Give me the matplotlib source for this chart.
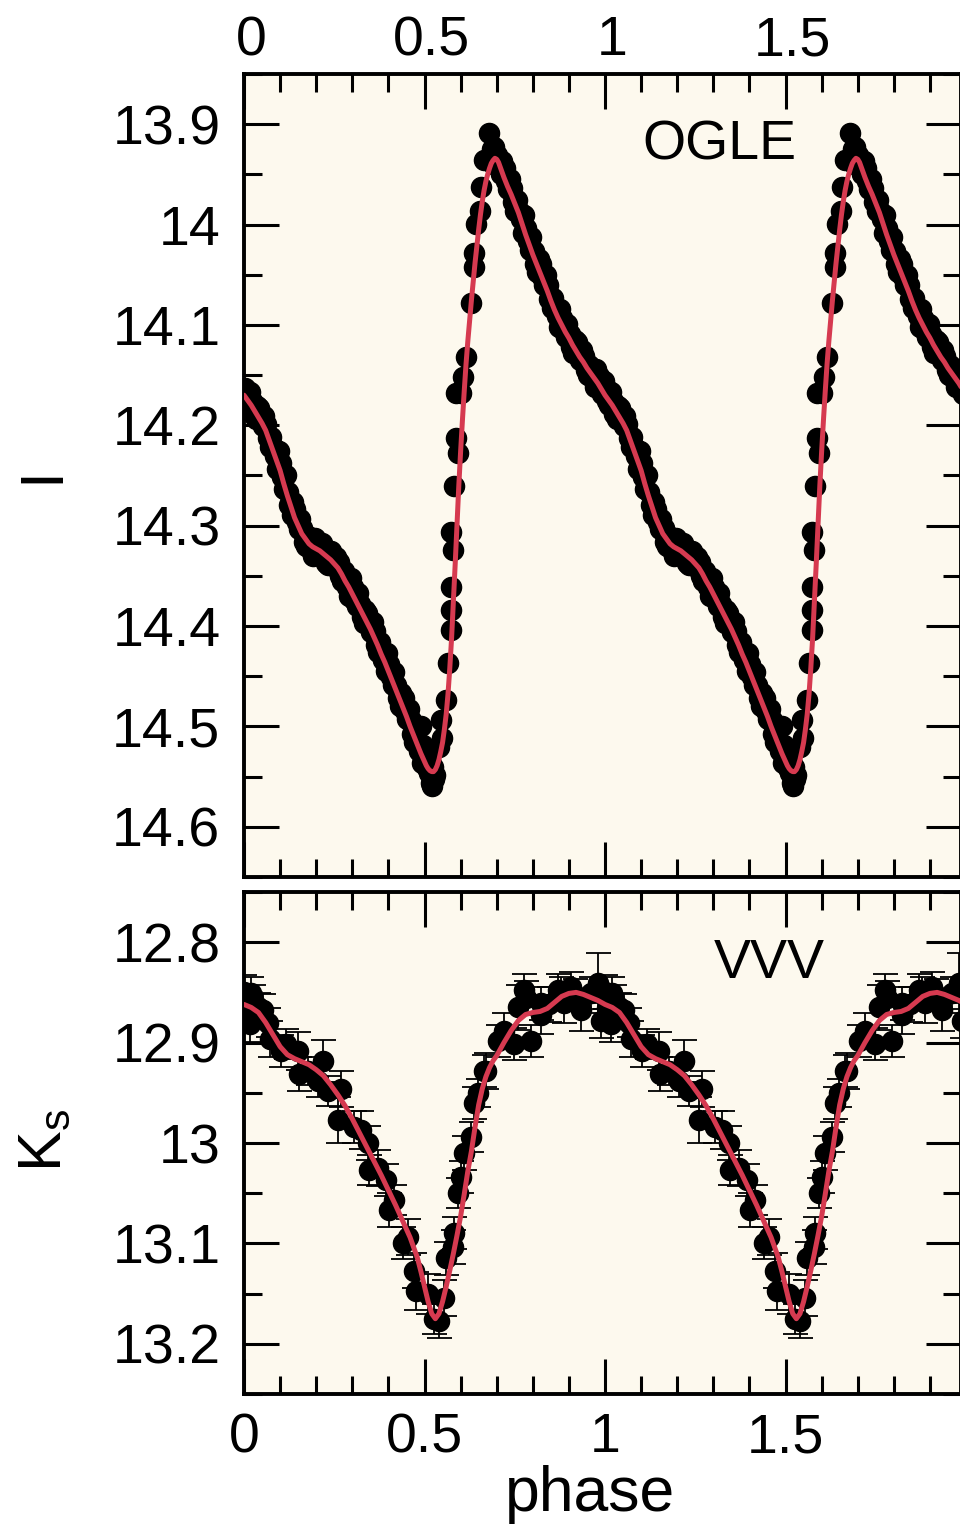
import matplotlib
matplotlib.use('Agg')
import matplotlib.pyplot as plt
from matplotlib.ticker import MultipleLocator, FuncFormatter
from matplotlib.transforms import ScaledTranslation

plt.rcParams['font.family'] = ['Liberation Sans', 'DejaVu Sans']
plt.rcParams['mathtext.fontset'] = 'custom'
plt.rcParams['mathtext.rm'] = 'Liberation Sans'
plt.rcParams['mathtext.it'] = 'Liberation Sans:italic'

# ---------------- OGLE I-band data (phase 0..1) ----------------
ogle_phase = [
    0.002, 0.006, 0.012, 0.016, 0.022, 0.026, 0.032, 0.036, 0.042, 0.046,
    0.052, 0.056, 0.062, 0.066, 0.072, 0.076, 0.082, 0.086, 0.092, 0.096,
    0.102, 0.106, 0.112, 0.116, 0.122, 0.126, 0.132, 0.136, 0.142, 0.146,
    0.152, 0.156, 0.162, 0.166, 0.172, 0.176, 0.182, 0.186, 0.192, 0.196,
    0.202, 0.206, 0.212, 0.216, 0.222, 0.226, 0.232, 0.236, 0.242, 0.246,
    0.252, 0.256, 0.262, 0.266, 0.272, 0.276, 0.282, 0.286, 0.292, 0.296,
    0.302, 0.306, 0.312, 0.316, 0.322, 0.326, 0.332, 0.336, 0.342, 0.346,
    0.352, 0.356, 0.362, 0.366, 0.372, 0.376, 0.382, 0.386, 0.392, 0.396,
    0.402, 0.406, 0.412, 0.416, 0.422, 0.426, 0.432, 0.436, 0.442, 0.446,
    0.452, 0.456, 0.462, 0.466, 0.472, 0.476, 0.482, 0.486, 0.492, 0.496,
    0.502, 0.506, 0.512, 0.516,
    0.490, 0.518, 0.522, 0.526, 0.530, 0.524, 0.540, 0.546, 0.548,
    0.560, 0.565, 0.573, 0.573, 0.573, 0.579, 0.573, 0.582, 0.593, 0.587,
    0.587, 0.601, 0.607, 0.615, 0.629, 0.637, 0.637, 0.643, 0.654, 0.657,
    0.665, 0.679, 0.686, 0.693, 0.690, 0.697,
    0.702, 0.706, 0.712, 0.716, 0.722, 0.726, 0.732, 0.736, 0.742, 0.746,
    0.752, 0.756, 0.762, 0.766, 0.772, 0.776, 0.782, 0.786, 0.792, 0.796,
    0.802, 0.806, 0.812, 0.816, 0.822, 0.826, 0.832, 0.836, 0.842, 0.846,
    0.852, 0.856, 0.862, 0.866, 0.872, 0.876, 0.882, 0.886, 0.892, 0.896,
    0.902, 0.906, 0.912, 0.916, 0.922, 0.926, 0.932, 0.936, 0.942, 0.946,
    0.952, 0.956, 0.962, 0.966, 0.972, 0.976, 0.982, 0.986, 0.992, 0.996,
]
ogle_mag = [
    14.163, 14.176, 14.180, 14.167, 14.176, 14.189, 14.194, 14.181, 14.183, 14.196,
    14.201, 14.191, 14.199, 14.213, 14.222, 14.212, 14.223, 14.231, 14.244, 14.226,
    14.238, 14.251, 14.263, 14.250, 14.266, 14.279, 14.289, 14.276, 14.283, 14.296,
    14.303, 14.293, 14.302, 14.316, 14.320, 14.310, 14.316, 14.324, 14.330, 14.312,
    14.316, 14.329, 14.330, 14.317, 14.324, 14.337, 14.339, 14.326, 14.325, 14.338,
    14.341, 14.331, 14.336, 14.350, 14.355, 14.345, 14.353, 14.361, 14.370, 14.352,
    14.361, 14.374, 14.380, 14.367, 14.378, 14.391, 14.397, 14.384, 14.387, 14.400,
    14.406, 14.396, 14.405, 14.419, 14.426, 14.416, 14.426, 14.434, 14.445, 14.427,
    14.438, 14.451, 14.459, 14.446, 14.459, 14.472, 14.480, 14.467, 14.472, 14.485,
    14.493, 14.483, 14.494, 14.508, 14.516, 14.506, 14.516, 14.524, 14.536, 14.518,
    14.528, 14.541, 14.546, 14.533,
    14.500, 14.556, 14.559, 14.552, 14.548, 14.540, 14.520, 14.494, 14.512,
    14.474, 14.437, 14.404, 14.384, 14.361, 14.324, 14.306, 14.260, 14.228, 14.213,
    14.168, 14.168, 14.152, 14.132, 14.078, 14.042, 14.028, 13.999, 13.986, 13.963,
    13.936, 13.909, 13.925, 13.923, 13.940, 13.931,
    13.931, 13.944, 13.950, 13.937, 13.944, 13.957, 13.965, 13.955, 13.964, 13.978,
    13.986, 13.976, 13.986, 13.994, 14.008, 13.990, 14.003, 14.016, 14.025, 14.012,
    14.026, 14.039, 14.047, 14.034, 14.039, 14.052, 14.060, 14.050, 14.060, 14.074,
    14.083, 14.073, 14.083, 14.091, 14.102, 14.084, 14.093, 14.106, 14.112, 14.099,
    14.109, 14.122, 14.128, 14.115, 14.117, 14.130, 14.135, 14.125, 14.131, 14.145,
    14.150, 14.140, 14.146, 14.154, 14.162, 14.144, 14.151, 14.164, 14.169, 14.156,
]

ogle_fit_phase = [
    0.00, 0.01, 0.02, 0.03, 0.04, 0.05, 0.06, 0.07, 0.08, 0.09,
    0.10, 0.11, 0.12, 0.13, 0.14, 0.15, 0.16, 0.17, 0.18, 0.19,
    0.20, 0.21, 0.22, 0.23, 0.24, 0.25, 0.26, 0.27, 0.28, 0.29,
    0.30, 0.31, 0.32, 0.33, 0.34, 0.35, 0.36, 0.37, 0.38, 0.39,
    0.40, 0.41, 0.42, 0.43, 0.44, 0.45, 0.46, 0.47, 0.48, 0.49,
    0.50, 0.505, 0.51, 0.515, 0.52, 0.525, 0.53, 0.535, 0.54, 0.545,
    0.55, 0.555, 0.56, 0.565, 0.57, 0.575, 0.58, 0.585, 0.59, 0.595,
    0.60, 0.605, 0.61, 0.615, 0.62, 0.625, 0.63, 0.635, 0.64, 0.645,
    0.65, 0.655, 0.66, 0.665, 0.67, 0.675, 0.68, 0.685, 0.69, 0.695,
    0.70, 0.705, 0.71, 0.715, 0.72, 0.73, 0.74, 0.75, 0.76, 0.77,
    0.78, 0.79, 0.80, 0.81, 0.82, 0.83, 0.84, 0.85, 0.86, 0.87,
    0.88, 0.89, 0.90, 0.91, 0.92, 0.93, 0.94, 0.95, 0.96, 0.97,
    0.98, 0.99, 1.00,
]
ogle_fit_mag = [
    14.170, 14.175, 14.180, 14.186, 14.192, 14.198, 14.205, 14.215, 14.225, 14.235,
    14.245, 14.258, 14.270, 14.281, 14.292, 14.300, 14.308, 14.313, 14.318, 14.321,
    14.323, 14.325, 14.328, 14.331, 14.334, 14.338, 14.342, 14.348, 14.355, 14.361,
    14.368, 14.375, 14.382, 14.389, 14.396, 14.403, 14.411, 14.419, 14.428, 14.436,
    14.445, 14.454, 14.463, 14.472, 14.481, 14.490, 14.500, 14.509, 14.518, 14.527,
    14.535, 14.539, 14.542, 14.544, 14.545, 14.545, 14.543, 14.539, 14.533, 14.525,
    14.516, 14.503, 14.488, 14.468, 14.442, 14.412, 14.376, 14.338, 14.298, 14.260,
    14.226, 14.195, 14.166, 14.139, 14.116, 14.095, 14.075, 14.056, 14.038, 14.021,
    14.005, 13.990, 13.977, 13.966, 13.957, 13.950, 13.944, 13.939, 13.936, 13.934,
    13.935, 13.938, 13.943, 13.948, 13.953, 13.962, 13.970, 13.979, 13.988, 13.999,
    14.010, 14.020, 14.030, 14.039, 14.048, 14.057, 14.066, 14.076, 14.085, 14.093,
    14.100, 14.107, 14.113, 14.120, 14.126, 14.132, 14.137, 14.143, 14.148, 14.153,
    14.158, 14.164, 14.170,
]

# ---------------- VVV Ks-band data (phase 0..1) ----------------
vvv_phase = [
    0.000, 0.006, 0.017, 0.019, 0.025, 0.039, 0.053, 0.066, 0.072, 0.102,
    0.116, 0.149, 0.152, 0.177, 0.205, 0.219, 0.233, 0.260, 0.269, 0.305,
    0.324, 0.343, 0.346, 0.371, 0.393, 0.402, 0.416, 0.440, 0.454, 0.471,
    0.476, 0.510, 0.527, 0.540, 0.554, 0.560, 0.579, 0.582, 0.593, 0.601,
    0.609, 0.629, 0.637, 0.648, 0.665, 0.670, 0.703, 0.720, 0.748, 0.759,
    0.776, 0.781, 0.795, 0.823, 0.823, 0.845, 0.870, 0.878, 0.886, 0.906,
    0.918, 0.934, 0.961, 0.981, 0.989,
]
vvv_mag = [
    12.850, 12.866, 12.881, 12.851, 12.858, 12.865, 12.868, 12.880, 12.896, 12.908,
    12.901, 12.908, 12.931, 12.928, 12.938, 12.918, 12.948, 12.977, 12.946, 12.984,
    12.987, 13.000, 13.027, 13.025, 13.037, 13.067, 13.057, 13.100, 13.094, 13.127,
    13.147, 13.150, 13.175, 13.177, 13.154, 13.115, 13.104, 13.090, 13.050, 13.034,
    13.010, 12.994, 12.960, 12.950, 12.928, 12.928, 12.898, 12.888, 12.901, 12.865,
    12.848, 12.856, 12.898, 12.861, 12.873, 12.862, 12.848, 12.850, 12.861, 12.845,
    12.853, 12.868, 12.851, 12.841, 12.878,
]
vvv_err = [
    0.017, 0.015, 0.018, 0.016, 0.015, 0.014, 0.016, 0.014, 0.018, 0.016,
    0.015, 0.019, 0.017, 0.014, 0.016, 0.021, 0.015, 0.023, 0.018, 0.016,
    0.019, 0.017, 0.015, 0.018, 0.016, 0.017, 0.015, 0.016, 0.018, 0.017,
    0.019, 0.020, 0.015, 0.017, 0.018, 0.016, 0.017, 0.016, 0.015, 0.016,
    0.017, 0.015, 0.016, 0.014, 0.016, 0.018, 0.016, 0.017, 0.016, 0.022,
    0.016, 0.017, 0.016, 0.016, 0.018, 0.017, 0.016, 0.015, 0.019, 0.015,
    0.016, 0.020, 0.016, 0.030, 0.017,
]

vvv_fit_phase = [
    0.00, 0.02, 0.04, 0.06, 0.08, 0.10, 0.12, 0.14, 0.16, 0.18,
    0.20, 0.22, 0.24, 0.26, 0.28, 0.30, 0.32, 0.34, 0.36, 0.38,
    0.40, 0.42, 0.44, 0.46, 0.48, 0.49, 0.50, 0.51, 0.52, 0.53,
    0.54, 0.55, 0.56, 0.57, 0.58, 0.59, 0.60, 0.61, 0.62, 0.63,
    0.64, 0.65, 0.66, 0.67, 0.68, 0.69, 0.70, 0.72, 0.74, 0.76,
    0.78, 0.80, 0.82, 0.84, 0.86, 0.88, 0.90, 0.92, 0.94, 0.96,
    0.98, 1.00,
]
vvv_fit_mag = [
    12.862, 12.865, 12.870, 12.880, 12.892, 12.904, 12.912, 12.916, 12.919, 12.922,
    12.927, 12.933, 12.942, 12.952, 12.963, 12.976, 12.990, 13.004, 13.018, 13.032,
    13.047, 13.062, 13.078, 13.094, 13.114, 13.128, 13.143, 13.158, 13.170, 13.175,
    13.170, 13.158, 13.143, 13.127, 13.110, 13.092, 13.073, 13.051, 13.028, 13.008,
    12.984, 12.962, 12.946, 12.934, 12.925, 12.918, 12.913, 12.900, 12.888, 12.878,
    12.872, 12.870, 12.869, 12.866, 12.860, 12.854, 12.851, 12.850, 12.852, 12.855,
    12.858, 12.862,
]

cycles = [0, 1]
fit_color = '#d63a50'
bg_color = '#fdf9ee'

W, H = 960, 1526
fig = plt.figure(figsize=(W / 100, H / 100), dpi=100)
ax1 = fig.add_axes([244 / W, 1 - 877 / H, 717 / W, 803 / H])
ax2 = fig.add_axes([244 / W, 1 - 1394 / H, 717 / W, 502 / H])

fmt = FuncFormatter(lambda v, p: f'{v:g}')

# OGLE panel
for c in cycles:
    ax1.plot([p + c for p in ogle_phase], ogle_mag, 'o', color='black',
             ms=14.5, mec='black', zorder=2, clip_on=True)
fit_x1 = [p + c for c in cycles for p in ogle_fit_phase]
fit_y1 = [m for c in cycles for m in ogle_fit_mag]
ax1.plot(fit_x1, fit_y1, '-', color=fit_color, lw=3.6, zorder=3,
         solid_capstyle='round')

# VVV panel
for c in cycles:
    ax2.errorbar([p + c for p in vvv_phase], vvv_mag, yerr=vvv_err, fmt='o',
                 color='black', ms=14.5, ecolor='black', elinewidth=1.3,
                 capsize=9, capthick=1.3, zorder=2)
fit_x2 = [p + c for c in cycles for p in vvv_fit_phase]
fit_y2 = [m for c in cycles for m in vvv_fit_mag]
ax2.plot(fit_x2, fit_y2, '-', color=fit_color, lw=3.6, zorder=3,
         solid_capstyle='round')

ax1.set_xlim(0, 1.986)
ax2.set_xlim(0, 1.986)
ax1.set_ylim(14.65, 13.85)
ax2.set_ylim(13.25, 12.75)

for ax in (ax1, ax2):
    ax.set_facecolor(bg_color)
    ax.xaxis.set_major_locator(MultipleLocator(0.5))
    ax.xaxis.set_minor_locator(MultipleLocator(0.1))
    ax.yaxis.set_major_locator(MultipleLocator(0.1))
    ax.yaxis.set_minor_locator(MultipleLocator(0.05))
    ax.xaxis.set_major_formatter(fmt)
    ax.yaxis.set_major_formatter(fmt)
    ax.tick_params(which='both', direction='in', top=True, right=True,
                   bottom=True, left=True, width=2.2, labelsize=40)
    ax.tick_params(which='major', length=25)
    ax.tick_params(which='minor', length=13)
    ax.tick_params(axis='y', pad=17)
    for s in ax.spines.values():
        s.set_linewidth(2.8)

ax1.tick_params(labeltop=True, labelbottom=False)
ax1.tick_params(axis='x', pad=5)
ax2.tick_params(labeltop=False, labelbottom=True)
ax2.tick_params(axis='x', pad=13)

ax1.text(1.316, 13.921, 'OGLE', fontsize=40, ha='center', va='center')
ax2.text(1.454, 12.822, 'VVV', fontsize=40, ha='center', va='center')

fig.text(43 / W, 1 - 475 / H, 'I', rotation=90, fontsize=44,
         ha='center', va='center')
fig.text(45 / W, 1 - 1140 / H, r'K$_{\mathrm{s}}$', rotation=90, fontsize=44,
         ha='center', va='center')
fig.text(590 / W, 1 - 1495 / H, 'phase', fontsize=45, ha='center',
         va='center')

# top tick labels of the upper panel sit slightly right of their ticks
shift = ScaledTranslation(7 / 100, 0, fig.dpi_scale_trans)
for lab in ax1.xaxis.get_majorticklabels():
    lab.set_transform(lab.get_transform() + shift)

fig.savefig('out.png', dpi=100)
